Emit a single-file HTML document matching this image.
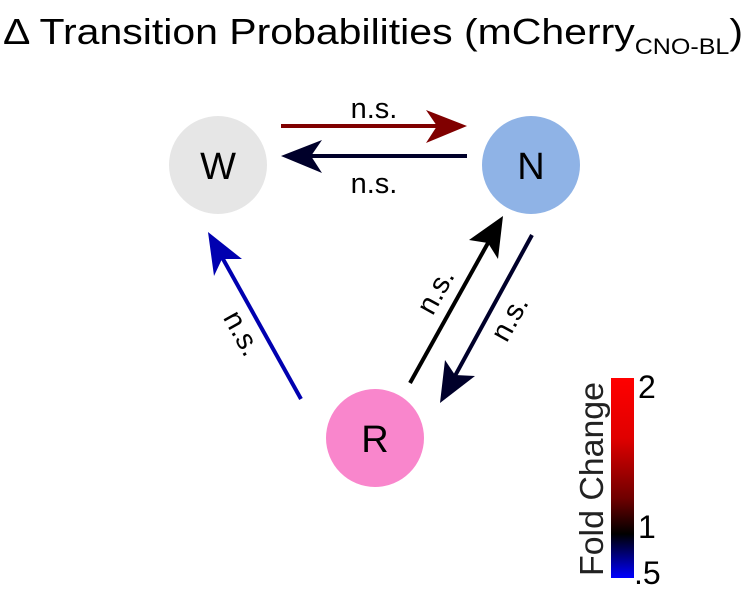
<!DOCTYPE html>
<html><head><meta charset="utf-8"><style>
html,body{margin:0;padding:0;background:#fff;width:749px;height:602px;overflow:hidden}
svg text{font-family:"Liberation Sans",Arial,sans-serif}
</style></head><body>
<svg width="749" height="602" viewBox="0 0 749 602" xmlns="http://www.w3.org/2000/svg">
<defs>
<linearGradient id="cb" x1="0" y1="0" x2="0" y2="1">
<stop offset="0" stop-color="#ff0000"/><stop offset="0.3" stop-color="#e00000"/>
<stop offset="0.6" stop-color="#700000"/><stop offset="0.78" stop-color="#000000"/>
<stop offset="1" stop-color="#0000ff"/>
</linearGradient>
</defs>
<text x="3" y="44" font-size="36" textLength="740" lengthAdjust="spacingAndGlyphs">Δ Transition Probabilities (mCherry<tspan font-size="22" dy="10">CNO-BL</tspan><tspan dy="-10">)</tspan></text>
<circle cx="218" cy="165" r="49" fill="#e6e6e6"/>
<circle cx="531" cy="165" r="49" fill="#8fb3e6"/>
<circle cx="375" cy="438" r="49" fill="#f986cc"/>
<text x="218" y="179" font-size="38" text-anchor="middle">W</text>
<text x="531" y="179" font-size="38" text-anchor="middle">N</text>
<text x="375" y="452" font-size="38" text-anchor="middle">R</text>
<line x1="281" y1="126" x2="450" y2="126" stroke="#800000" stroke-width="4"/>
<polygon points="467,126 426,110 437,126 426,143" fill="#800000"/>
<line x1="467" y1="156" x2="298" y2="156" stroke="#00002a" stroke-width="4"/>
<polygon points="281,156 322,140 311,156 322,173" fill="#00002a"/>
<text x="374" y="118" font-size="29" text-anchor="middle">n.s.</text>
<text x="374" y="193" font-size="29" text-anchor="middle">n.s.</text>
<line x1="301" y1="399" x2="218" y2="250" stroke="#0000b0" stroke-width="4"/>
<polygon points="208,232 214,276 222,259 242,259" fill="#0000b0"/>
<line x1="410" y1="383" x2="493" y2="234" stroke="#000" stroke-width="4"/>
<polygon points="503,216 469,240 488,243 498,259" fill="#000"/>
<line x1="532" y1="235" x2="450" y2="385" stroke="#00002a" stroke-width="4"/>
<polygon points="440,403 445,360 455,375 475,376" fill="#00002a"/>
<text transform="translate(234,338) rotate(61)" font-size="29" text-anchor="middle">n.s.</text>
<text transform="translate(444,296) rotate(-61)" font-size="29" text-anchor="middle">n.s.</text>
<text transform="translate(518,323) rotate(-61)" font-size="29" text-anchor="middle">n.s.</text>
<rect x="611" y="378" width="23" height="200" fill="url(#cb)"/>
<text x="638" y="398" font-size="32">2</text>
<text x="638" y="538" font-size="32">1</text>
<text x="634" y="584" font-size="32">.5</text>
<text transform="translate(603,479) rotate(-90)" font-size="33" text-anchor="middle" fill="#222" textLength="194" lengthAdjust="spacingAndGlyphs">Fold Change</text>
</svg>
</body></html>
